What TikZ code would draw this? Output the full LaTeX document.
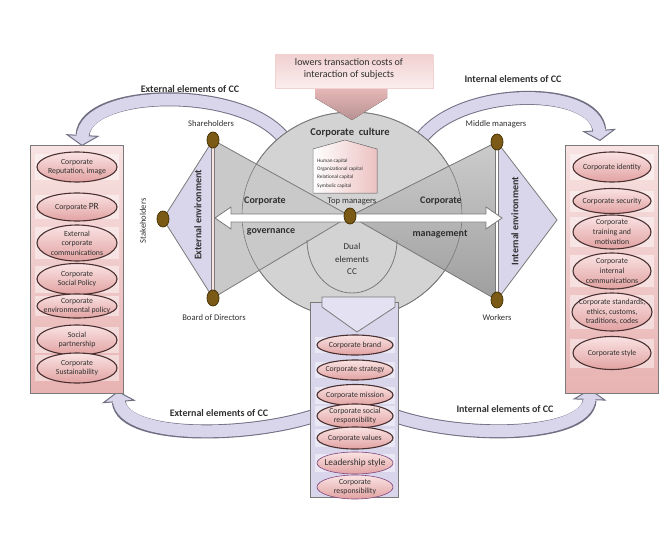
\documentclass[tikz,border=0pt]{standalone}
\usepackage{fontspec}
\setmainfont{Carlito}
\usetikzlibrary{shapes.geometric,arrows.meta}
\definecolor{lav}{HTML}{D9D6EC}
\definecolor{bandline}{HTML}{6F6F82}
\definecolor{pinkA}{HTML}{F8E2E2}
\definecolor{pinkB}{HTML}{E8B2B2}
\definecolor{elA}{HTML}{FAE3E3}
\definecolor{elB}{HTML}{E2A2A2}
\definecolor{elline}{HTML}{4A3030}
\definecolor{dotc}{HTML}{7A5A14}
\definecolor{dotline}{HTML}{4A3608}
\definecolor{ellc}{HTML}{D3D3D3}
\definecolor{grayline}{HTML}{7A7A7A}
\definecolor{txt}{HTML}{303030}
\newcommand\elnode[7]{%
  \fill[stripc] (#2-#6,#3-#5/2+2) rectangle (#2+#6,#3+#5/2-2);
  \node[elshape, minimum width=#4pt, minimum height=#5pt] (#1) at (#2,#3) {};
  \node[eltext] (#1t) at (#1) {#7};
}
\tikzset{
  lbl/.style={font=\fontsize{8.6}{10}\selectfont, text=txt, inner sep=1pt},
  bl/.style={font=\bfseries\fontsize{10}{11}\selectfont, text=txt, inner sep=1pt},
  elshape/.style={ellipse, draw=elline, line width=1.1pt, top color=elA, bottom color=elB, inner sep=0pt},
  eltext/.style={align=center, font=\fontsize{7.8}{9.6}\selectfont, text=txt, inner sep=0pt},
  stripc/.style={fill=white, opacity=.45},
  dot/.style={ellipse, draw=dotline, line width=.8pt, fill=dotc, minimum width=12pt, minimum height=16pt, inner sep=0pt},
  bandout/.style={draw=bandline, line width=14pt, -{Triangle[length=11pt,width=34pt,fill=lav,line width=1pt]}},
  bandin/.style={draw=lav, line width=12pt, shorten >=9pt},
  boxst/.style={draw=grayline, line width=1pt},
}
\begin{document}
\begin{tikzpicture}[x=1pt,y=-1pt]
\useasboundingbox (0,0) rectangle (671,532);
% key points
\coordinate (sh) at (213,140);
\coordinate (bd) at (213,298);
\coordinate (st) at (163,219);
\coordinate (mm) at (497,142);
\coordinate (wk) at (497,300);
\coordinate (rp) at (557,220);
\coordinate (tm) at (350,216);
% curved band arrows
\coordinate (b1s) at (285,140); \coordinate (b1e) at (82,146);
\coordinate (b2s) at (420,140); \coordinate (b2e) at (600,141);
\coordinate (b3s) at (330,410); \coordinate (b3e) at (118,391);
\coordinate (b4s) at (380,410); \coordinate (b4e) at (590,389);
\draw[bandout] (b1s) .. controls (245,85) and (85,88) .. (b1e);
\draw[bandin]  (b1s) .. controls (245,85) and (85,88) .. (b1e);
\draw[bandout] (b2s) .. controls (460,85) and (596,86) .. (b2e);
\draw[bandin]  (b2s) .. controls (460,85) and (596,86) .. (b2e);
\draw[bandout] (b3s) .. controls (265,438) and (122,442) .. (b3e);
\draw[bandin]  (b3s) .. controls (265,438) and (122,442) .. (b3e);
\draw[bandout] (b4s) .. controls (445,440) and (588,440) .. (b4e);
\draw[bandin]  (b4s) .. controls (445,440) and (588,440) .. (b4e);
% big ellipse
\node[ellipse, draw=grayline, line width=.8pt, fill=ellc, minimum width=220pt, minimum height=206pt, inner sep=0pt] (ell) at (352,215) {};
% lavender triangles
\filldraw[fill=lav, draw=grayline, line width=.8pt] (sh) -- (st) -- (bd) -- cycle;
\filldraw[fill=lav, draw=grayline, line width=.8pt] (mm) -- (rp) -- (wk) -- cycle;
% grey triangles
\fill[black!21] (sh) -- (tm) -- (bd) -- cycle;
\fill[top color=black!20, bottom color=black!38] (mm) -- (tm) -- (wk) -- cycle;
\draw[grayline, line width=.6pt] (ell.center) ellipse[x radius=110, y radius=103];
\draw[grayline, line width=.8pt] (sh) -- (tm) -- (bd);
\draw[grayline, line width=.8pt] (mm) -- (tm) -- (wk);
% dual elements arc
\draw[grayline, line width=.8pt] (307,240) arc[start angle=180, end angle=0, x radius=45, y radius=53];
% vertical double lines
\draw[line width=3.6pt, grayline] (sh) -- (bd);
\draw[line width=1.4pt, pinkA] (sh) -- (bd);
\draw[line width=3.6pt, grayline] (mm) -- (wk);
\draw[line width=1.4pt, white] (mm) -- (wk);
% horizontal double arrow
\filldraw[fill=white, draw=grayline, line width=.8pt] (215,218) -- (231,207) -- (231,214) -- (486,214) -- (486,207) -- (502,218) -- (486,229) -- (486,222) -- (231,222) -- (231,229) -- cycle;
% dots
\node[dot] (shd) at (sh) {};
\node[dot] (bdd) at (bd) {};
\node[dot] (std) at (st) {};
\node[dot] (mmd) at (mm) {};
\node[dot] (wkd) at (wk) {};
\node[dot] (tmd) at (tm) {};
% house
\filldraw[left color=white, right color=pinkB!80!white, draw=grayline, line width=.5pt] (313,193) -- (313,149) -- (345,140) -- (377,149) -- (377,193) -- cycle;
\node[anchor=west, font=\fontsize{5.2}{6}\selectfont, text=txt, inner sep=0pt] (h1) at (317,161) {Human capital};
\node[anchor=west, font=\fontsize{5.2}{6}\selectfont, text=txt, inner sep=0pt] (h2) at (317,169) {Organizational capital};
\node[anchor=west, font=\fontsize{5.2}{6}\selectfont, text=txt, inner sep=0pt] (h3) at (317,177) {Relational capital};
\node[anchor=west, font=\fontsize{5.2}{6}\selectfont, text=txt, inner sep=0pt] (h4) at (317,186) {Symbolic capital};
% top box and arrow
\fill[top color=pinkB!90!white, bottom color=pinkB!75!black!90!white] (315,86) -- (387,86) -- (387,98) -- (352,120) -- (315,98) -- cycle;
\node[draw=pinkB!60!white, line width=.6pt, top color=pinkB!60!white, bottom color=pinkA!60!white, minimum width=158pt, minimum height=33pt, inner sep=0pt] (topbox) at (354,71.5) {};
\node[align=center, font=\fontsize{10}{12}\selectfont, text=txt] (toptxt) at (349,69) {lowers transaction costs of\\interaction of subjects};
% left box
\node[boxst, top color=pinkA, bottom color=pinkB, minimum width=93pt, minimum height=248pt, inner sep=0pt] (lbox) at (76.5,269) {};
\elnode{l1}{77}{167}{80}{30}{42}{Corporate\\Reputation, image}
\elnode{l2}{77}{207}{80}{28}{42}{Corporate {\fontsize{9.5}{10}\selectfont PR}}
\elnode{l3}{77}{243}{80}{36}{42}{External\\corporate\\communications}
\elnode{l4}{77}{279}{80}{31}{42}{Corporate\\Social Policy}
\elnode{l5}{77}{306}{80}{24}{42}{Corporate\\environmental policy}
\elnode{l6}{77}{340}{80}{30}{42}{Social\\partnership}
\elnode{l7}{77}{368}{80}{30}{42}{Corporate\\Sustainability}
% right box
\node[boxst, top color=pinkA, bottom color=pinkB, minimum width=93pt, minimum height=248pt, inner sep=0pt] (rbox) at (611.5,269) {};
\elnode{r1}{612}{167}{78}{30}{42}{Corporate identity}
\elnode{r2}{612}{201}{78}{25}{42}{Corporate security}
\elnode{r3}{612}{232}{78}{34}{42}{Corporate\\training and\\motivation}
\elnode{r4}{612}{271}{78}{36}{42}{Corporate\\internal\\communications}
\elnode{r5}{612}{312}{80}{38}{42}{Corporate standards,\\ethics, customs,\\traditions, codes}
\elnode{r6}{612}{353}{78}{33}{42}{Corporate style}
% center box
\node[boxst, fill=lav, minimum width=88pt, minimum height=195pt, inner sep=0pt] (cbox) at (354,399.5) {};
\elnode{c1}{355}{345}{76}{20}{40}{Corporate brand}
\elnode{c2}{355}{370}{76}{20}{40}{Corporate strategy}
\elnode{c3}{355}{395}{76}{21}{40}{Corporate mission}
\elnode{c4}{355}{416}{76}{24}{40}{Corporate social\\responsibility}
\elnode{c5}{355}{438}{76}{22}{40}{Corporate values}
\fill[stripc] (315,454) rectangle (395,472);
\node[ellipse, draw=violet!45!gray, line width=.6pt, top color=elA, bottom color=elB, minimum width=76pt, minimum height=22pt, inner sep=0pt] (c6) at (355,463) {};
\node[eltext, font=\fontsize{9.3}{10}\selectfont] (c6t) at (c6) {Leadership style};
\node[ellipse, draw=violet!45!gray, line width=.6pt, top color=elA, bottom color=elB, minimum width=76pt, minimum height=24pt, inner sep=0pt] (c7) at (355,487) {};
\node[eltext] (c7t) at (c7) {Corporate\\responsibility};
% bottom arrow into center box
\filldraw[fill=lav!70!white, draw=grayline, line width=.8pt] (322,297) -- (395,297) -- (395,307) -- (357,332) -- (322,307) -- cycle;
% labels
\node[bl] (extTop) at (190,89) {External elements of CC};
\node[bl] (intTop) at (513,79) {Internal elements of CC};
\node[bl] (extBot) at (219,413) {External elements of CC};
\node[bl] (intBot) at (505,409) {Internal elements of CC};
\node[lbl] (shL) at (211,124) {Shareholders};
\node[lbl] (bdL) at (214,318) {Board of Directors};
\node[lbl] (mmL) at (496,124) {Middle managers};
\node[lbl] (wkL) at (497,318) {Workers};
\node[lbl, rotate=90] (stL) at (143,221) {Stakeholders};
\node[bl] [rotate=90] (exEnv) at (198,215) {External environment};
\node[bl] [rotate=90] (inEnv) at (515,221) {Internal environment};
\node[font=\bfseries\fontsize{10.5}{12}\selectfont, text=txt] (ccul) at (350,133) {Corporate\ \ culture};
\node[lbl] (tmL) at (352,201) {Top managers};
\node[bl] (cg1) at (265,201) {Corporate};
\node[bl] (cg2) at (271,232) {governance};
\node[bl] (cm1) at (441,201) {Corporate};
\node[bl] (cm2) at (440,234) {management};
\node[align=center, font=\fontsize{9}{12.5}\selectfont, text=txt] (dual) at (352,259) {Dual\\elements\\CC};
\end{tikzpicture}
\end{document}
